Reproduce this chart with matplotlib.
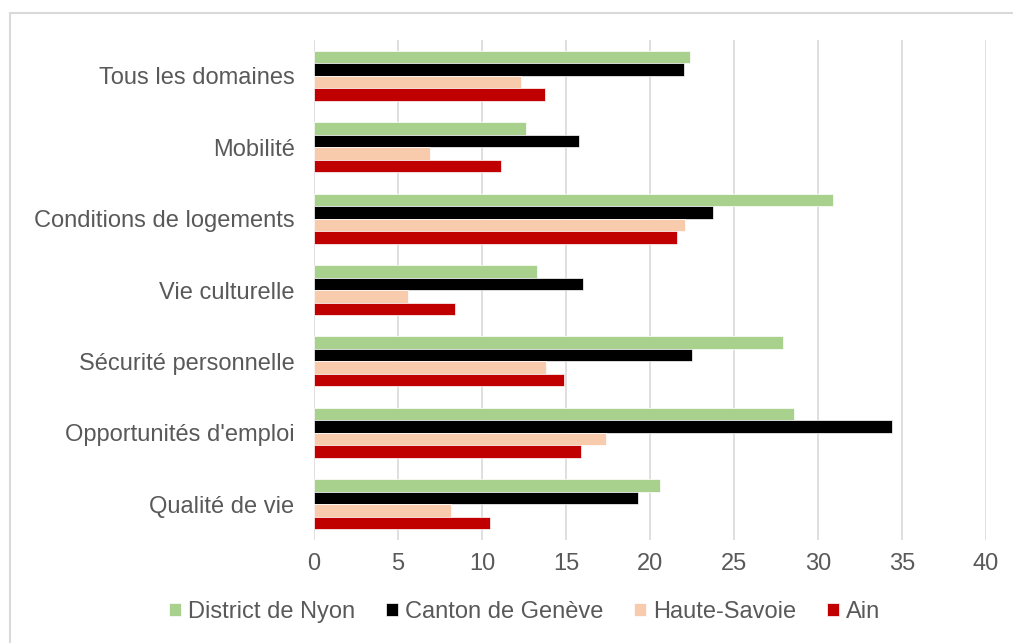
import matplotlib.pyplot as plt
from matplotlib.patches import Rectangle
import numpy as np

plt.rcParams['font.family'] = ['Liberation Sans', 'DejaVu Sans']

# Data
categories = ['Tous les domaines', 'Mobilité', 'Conditions de logements',
              'Vie culturelle', 'Sécurité personnelle', "Opportunités d'emploi",
              'Qualité de vie']
series_names = ['District de Nyon', 'Canton de Genève', 'Haute-Savoie', 'Ain']
nyon = [22.4, 12.6, 30.9, 13.3, 27.9, 28.6, 20.6]
geneve = [22.0, 15.8, 23.75, 16.0, 22.5, 34.4, 19.3]
haute_savoie = [12.3, 6.9, 22.1, 5.6, 13.8, 17.4, 8.15]
ain = [13.75, 11.15, 21.6, 8.4, 14.9, 15.9, 10.5]
x_ticks = [0, 5, 10, 15, 20, 25, 30, 35, 40]

colors = ['#A9D18E', '#000000', '#F8CBAD', '#C00000']
text_color = '#595959'

fig = plt.figure(figsize=(10.13, 6.43), dpi=100)
ax = fig.add_axes([314 / 1013, 1 - 540 / 643, (986 - 314) / 1013, 500 / 643])

y = np.arange(len(categories))
h = 0.175
all_series = [nyon, geneve, haute_savoie, ain]
for i, (vals, name, col) in enumerate(zip(all_series, series_names, colors)):
    ax.barh(y + (i - 1.5) * h, vals, height=h, color=col, label=name,
            edgecolor='white', linewidth=0.5, zorder=3)

ax.set_ylim(len(categories) - 0.5, -0.5)
ax.set_xlim(0, 40)
ax.set_xticks(x_ticks)
ax.set_yticks(y)
ax.set_yticklabels(categories)
ax.tick_params(axis='both', length=0, labelsize=17, colors=text_color)
ax.tick_params(axis='y', pad=14)
ax.tick_params(axis='x', pad=9)
ax.grid(axis='x', color='#D9D9D9', linewidth=1.2, zorder=0)
for s in ax.spines.values():
    s.set_visible(False)

leg = fig.legend(loc='center', bbox_to_anchor=(0.518, 1 - 612 / 643), ncol=4,
                 frameon=False, fontsize=17, handlelength=0.5, handleheight=0.5,
                 handletextpad=0.3, columnspacing=1.3)
for t in leg.get_texts():
    t.set_color(text_color)

# outer chart border, cropped at right and bottom in the reference
fig.patches.append(Rectangle((10 / 1013, -0.05), 1.2, 1 - 13 / 643 + 0.05,
                             transform=fig.transFigure, fill=False,
                             edgecolor='#D9D9D9', linewidth=1.5))

fig.savefig('out.png', dpi=100)
